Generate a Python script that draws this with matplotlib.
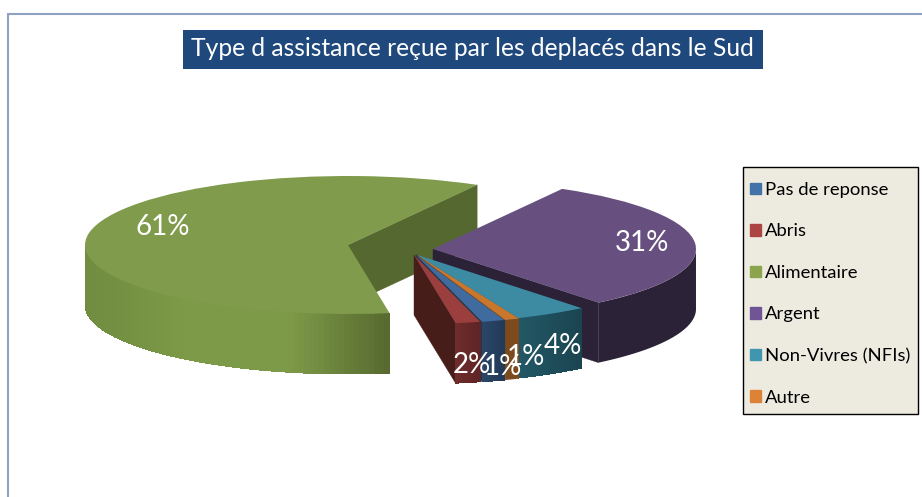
import numpy as np
import matplotlib
matplotlib.use('Agg')
import matplotlib.pyplot as plt
from matplotlib.colors import to_rgb
from matplotlib.patches import Patch, Rectangle

plt.rcParams['font.family'] = ['Lato', 'DejaVu Sans']

labels = ['Pas de reponse', 'Abris', 'Alimentaire', 'Argent', 'Non-Vivres (NFIs)', 'Autre']
values = [1.4, 1.52, 60.7, 31.0, 4.49, 0.9]
title = 'Type d assistance reçue par les deplacés dans le Sud'

# styles
top_colors = ['#3f6b9f', '#9a3f3e', '#7f9b4b', '#67507f', '#3d8ba3', '#c9772c']
legend_colors = ['#4372a8', '#ad4444', '#8aa54c', '#6f5596', '#3f96ae', '#dd8237']
inner_colors = ['#22384f', '#471d19', '#55682f', '#2c2238', '#1d4a57', '#6e4019']
wall_stops = [['#2a4668', '#223a58'],
              ['#6f2c2c', '#5f2426'],
              ['#6f8c40', '#7d9a48', '#7d9a48', '#56682f'],
              ['#2c2238', '#2c2238'],
              ['#235866', '#1a4450'],
              ['#7d4a1e', '#7d4a1e']]
# slice displacement in pixels from the pie centre
shift_px = [(16, 7), (14, 7), (-52, -3), (33, 1), (16, 6.5), (17, 7)]
draw_order = [2, 3, 4, 5, 0, 1]
# label centres in pixels
label_px = [(503, 367), (472, 365), (163, 227), (642, 243), (563, 346), (526, 357)]

W, H = 922, 497
CX, CY = 400, 248
RX, RY = 263.0, 69.0
DEPTH = 60 / RY


def to_data(px, py):
    return (px - CX) / RX, (CY - py) / RY


def fig_box(x0, y0, x1, y1, **kw):
    # box given in image pixels, y downwards
    fig.add_artist(Rectangle((x0 / W, 1 - y1 / H), (x1 - x0) / W, (y1 - y0) / H,
                             transform=fig.transFigure, **kw))


def draw_wall(ax, xs, ys, stops, z):
    # outer rim: a flat base, then thin strips shaded from left to right
    rgb = np.array([to_rgb(c) for c in stops])
    pos = np.linspace(0, 1, len(stops))
    frac = (xs - xs.min()) / (xs.max() - xs.min())
    ax.fill(np.r_[xs, xs[::-1]], np.r_[ys, ys[::-1] - DEPTH],
            color=rgb.mean(axis=0), lw=0, zorder=z)
    if len(set(stops)) == 1:
        return
    for i in range(len(xs) - 1):
        col = [np.interp(frac[i], pos, rgb[:, k]) for k in range(3)]
        ax.fill([xs[i], xs[i + 1], xs[i + 1], xs[i]],
                [ys[i], ys[i + 1], ys[i + 1] - DEPTH, ys[i] - DEPTH],
                color=col, lw=0, antialiased=False, zorder=z)


fig = plt.figure(figsize=(W / 100, H / 100), dpi=100)

fig_box(8, 14, W + 20, H + 20, fill=False, ec='#8ea3c4', lw=1.5)
fig_box(183, 30, 763, 69, fc='#1f497d', ec='none')
fig_box(743, 168, 918, 415, fc='#8a8a8a', ec='none')
fig_box(743, 167, 918, 414, fc='#edebe0', ec='black', lw=1)

ax = fig.add_axes([0, 0, 1, 1])
ax.set_zorder(5)
ax.patch.set_alpha(0)

wedges, texts, autotexts = ax.pie(values, colors=top_colors, startangle=-70.4,
                                  counterclock=False, autopct='%.0f%%',
                                  wedgeprops=dict(lw=0))

ax.set_aspect('auto')
ax.set_xlim((0 - CX) / RX, (W - CX) / RX)
ax.set_ylim((CY - H) / RY, CY / RY)
ax.axis('off')

for n, i in enumerate(draw_order):
    w = wedges[i]
    ox = shift_px[i][0] / RX
    oy = -shift_px[i][1] / RY
    z = 2 + n * 3
    for theta, visible in ((w.theta1, np.cos(np.radians(w.theta1)) > 0),
                           (w.theta2, np.cos(np.radians(w.theta2)) < 0)):
        if visible:
            ex = ox + np.cos(np.radians(theta))
            ey = oy + np.sin(np.radians(theta))
            ax.fill([ox, ex, ex, ox], [oy, ey, ey - DEPTH, oy - DEPTH],
                    color=inner_colors[i], lw=0.3, zorder=z)
    th = np.radians(np.linspace(w.theta1, w.theta2, 200))
    th = th[np.sin(th) <= 0]
    draw_wall(ax, ox + np.cos(th), oy + np.sin(th), wall_stops[i], z + 1)
    w.set_center((ox, oy))
    w.set_zorder(z + 2)

for i, t in enumerate(autotexts):
    t.set_position(to_data(*label_px[i]))
    t.set_color('white')
    t.set_fontsize(20)
    t.set_zorder(50)

tx, ty = to_data(472, 49)
ax.text(tx, ty, title, color='white', fontsize=17.7, ha='center', va='center', zorder=60)

handles = [Patch(color=c) for c in legend_colors]
leg = ax.legend(handles, labels, loc='upper left', bbox_to_anchor=(750 / W, 1 - 182 / H),
                borderaxespad=0, borderpad=0, fontsize=13.3, frameon=False,
                handlelength=0.6, handleheight=0.6, handletextpad=0.2,
                labelspacing=1.38)
leg.set_zorder(70)

fig.savefig('out.png', dpi=100)
